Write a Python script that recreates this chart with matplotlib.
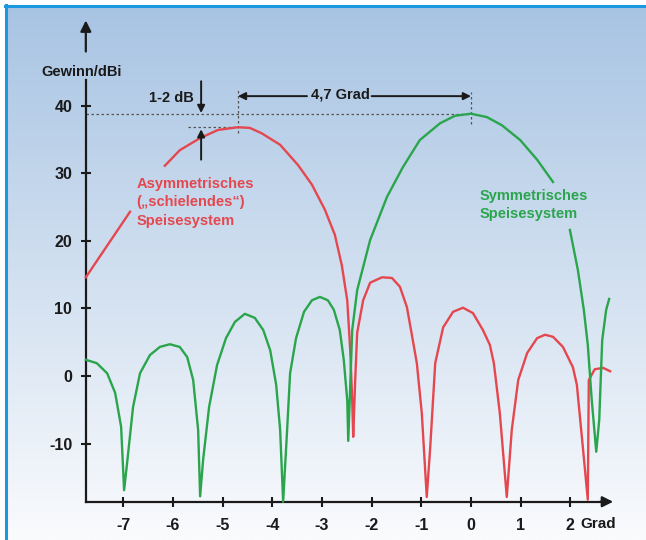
import matplotlib
matplotlib.use('Agg')
import matplotlib.pyplot as plt
import matplotlib.colors as mcolors
import numpy as np

nan = np.nan

# Symmetrisches Speisesystem (grün): Winkel in Grad, Gewinn in dBi
sym_x = [-7.75, -7.53, -7.32, -7.16, -7.04, -6.98, -6.92, -6.80, -6.66, -6.46,
         -6.26, -6.06, -5.86, -5.71, -5.59, -5.49, -5.45, -5.39, -5.27, -5.11,
         -4.93, -4.75, -4.55, -4.35, -4.18, -4.04, -3.92, -3.84, -3.78, -3.70,
         -3.64, -3.52, -3.36, -3.20, -3.04, -2.88, -2.76, -2.64, -2.56, -2.49,
         -2.47, -2.39, -2.29, -2.03, -1.69, -1.37, -1.03, -0.62, -0.32, 0.0,
         0.32, 0.62, 0.99, 1.33, 1.65, nan, 1.99, 2.15, 2.27, 2.35,
         2.43, 2.52, 2.58, 2.64, 2.72, 2.78]
sym_y = [2.4, 1.9, 0.4, -2.5, -7.5, -16.9, -12.9, -4.6, 0.4, 3.1,
         4.3, 4.7, 4.3, 2.8, -0.6, -8.0, -17.8, -12.4, -4.6, 1.6,
         5.6, 8.0, 9.2, 8.6, 6.8, 3.8, -1.3, -8.0, -18.6, -8.0,
         0.4, 5.6, 9.5, 11.2, 11.7, 11.2, 9.8, 6.8, 2.4, -3.6,
         -9.6, 6.8, 12.7, 20.1, 26.5, 30.9, 34.9, 37.4, 38.5, 38.8,
         38.3, 37.1, 34.9, 32.0, 28.7, nan, 21.6, 15.7, 9.8, 4.6,
         -3.6, -11.2, -6.5, 5.3, 9.8, 11.4]

# Asymmetrisches ("schielendes") Speisesystem (rot)
asym_x = [-7.75, -6.86, nan, -6.16, -5.86, -5.45, -5.09, -4.69, -4.45, -4.21,
          -3.84, -3.48, -3.20, -2.94, -2.74, -2.60, -2.49, -2.43, -2.39, -2.37,
          -2.33, -2.29, -2.17, -2.03, -1.79, -1.59, -1.43, -1.29, -1.19, -1.09,
          -0.99, -0.89, -0.82, -0.72, -0.56, -0.36, -0.16, 0.04, 0.24, 0.38,
          0.46, 0.58, 0.72, 0.82, 0.95, 1.13, 1.33, 1.49, 1.65, 1.85,
          2.05, 2.13, 2.25, 2.35, 2.37, 2.49, 2.66, 2.80]
asym_y = [14.6, 24.3, nan, 31.1, 33.4, 35.2, 36.4, 36.8, 36.7, 35.9,
          34.2, 31.2, 28.3, 24.6, 20.9, 16.4, 11.2, 3.8, -3.6, -9.0,
          -0.6, 6.4, 11.2, 13.8, 14.6, 14.5, 13.2, 10.2, 6.1, 1.9,
          -5.5, -17.9, -10.5, 1.9, 7.2, 9.5, 10.1, 9.3, 6.8, 4.6,
          1.9, -5.5, -17.9, -8.0, -0.6, 3.4, 5.6, 6.1, 5.8, 4.3,
          1.3, -1.3, -10.5, -18.3, -0.6, 1.0, 1.2, 0.7]

xticks = [-7, -6, -5, -4, -3, -2, -1, 0, 1, 2]
xtick_labels = ['-7', '-6', '-5', '-4', '-3', '-2', '-1', '0', '1', '2']
yticks = [-10, 0, 10, 20, 30, 40]
ytick_labels = ['-10', '0', '10', '20', '30', '40']

peak_sym = 38.7
peak_asym = 36.8
peak_asym_x = -4.69

plt.rcParams['font.family'] = ['Liberation Sans Narrow', 'Liberation Sans', 'DejaVu Sans']
plt.rcParams['font.weight'] = 'bold'

RED = '#e5474f'
GREEN = '#2aa54c'
INK = '#1a1a1a'
BLUE = '#1b98e0'

fig = plt.figure(figsize=(6.46, 5.40), dpi=100)
fig.patch.set_facecolor('white')
ax = fig.add_axes([0, 0, 1, 1])
ax.set_facecolor('none')

# Hintergrund-Verlauf hellblau -> weiss
top = np.array(mcolors.to_rgb('#a8c4e3'))
bot = np.array(mcolors.to_rgb('#fafbfd'))
t = np.linspace(0, 1, 256)[:, None]
grad = (top[None, :] * (1 - t) + bot[None, :] * t)[:, None, :]
ax.imshow(grad, extent=[7 / 646, 1, 0, 1 - 7 / 540], transform=ax.transAxes,
          aspect='auto', zorder=0, interpolation='bilinear')
ax.plot([6 / 646, 6 / 646], [0, 1 - 5 / 540], color=BLUE, lw=2.2, transform=ax.transAxes, zorder=1)
ax.plot([5 / 646, 1], [1 - 6 / 540, 1 - 6 / 540], color=BLUE, lw=2.2, transform=ax.transAxes, zorder=1)

ax.set_xlim(-471 / 49.7, 175 / 49.7)
ax.set_ylim(-164 / 6.76, 376 / 6.76)

# Achsen
for s in ['top', 'right']:
    ax.spines[s].set_visible(False)
ax.spines['left'].set_position(('data', -7.75))
ax.spines['bottom'].set_position(('data', -18.6))
ax.spines['left'].set_bounds(-18.6, 43.8)
ax.spines['bottom'].set_bounds(-7.75, 2.7)
for s in ['left', 'bottom']:
    ax.spines[s].set_linewidth(1.6)
    ax.spines[s].set_color(INK)
ax.set_xticks(xticks)
ax.set_xticklabels(xtick_labels)
ax.set_yticks(yticks)
ax.set_yticklabels(ytick_labels)
ax.tick_params(direction='inout', length=7.5, width=1.5, color=INK,
               labelsize=11.5, labelcolor=INK)
ax.tick_params(axis='x', pad=8)
ax.tick_params(axis='y', pad=6)

ax.annotate('', xy=(2.86, -18.6), xytext=(2.6, -18.6),
            arrowprops=dict(arrowstyle='-|>', lw=1.6, color=INK, mutation_scale=16,
                            shrinkA=0, shrinkB=0))
ax.annotate('', xy=(-7.75, 52.6), xytext=(-7.75, 48.0),
            arrowprops=dict(arrowstyle='-|>', lw=1.6, color=INK, mutation_scale=16,
                            shrinkA=0, shrinkB=0))
ax.text(-7.83, 44.9, 'Gewinn/dBi', ha='center', va='center', fontsize=10.5, color=INK)
ax.text(2.56, -21.9, 'Grad', ha='center', va='center', fontsize=11, color=INK)

# Kurven
ax.plot(asym_x, asym_y, color=RED, lw=1.7, zorder=3)
ax.plot(sym_x, sym_y, color=GREEN, lw=1.7, zorder=3)

# Hilfslinien
dash = dict(color='#555555', lw=0.9, ls=(0, (2, 2)), zorder=2)
ax.plot([-7.75, 0], [peak_sym, peak_sym], **dash)
ax.plot([-5.69, peak_asym_x], [peak_asym, peak_asym], **dash)
ax.plot([peak_asym_x, peak_asym_x], [35.9, 42.3], **dash)
ax.plot([0, 0], [37.3, 42.0], **dash)

arr = dict(arrowstyle='-|>', lw=1.4, color=INK, mutation_scale=11, shrinkA=0, shrinkB=0)
ax.annotate('', xy=(-5.43, peak_sym + 0.2), xytext=(-5.43, 43.6), arrowprops=arr)
ax.annotate('', xy=(-5.43, peak_asym - 0.3), xytext=(-5.43, 32.0), arrowprops=arr)
ax.text(-5.57, 41.1, '1-2 dB', ha='right', va='center', fontsize=10.5, color=INK)

ax.annotate('', xy=(peak_asym_x, 41.4), xytext=(-3.3, 41.4), arrowprops=arr)
ax.annotate('', xy=(0, 41.4), xytext=(-2.0, 41.4), arrowprops=arr)
ax.text(-2.63, 41.6, '4,7 Grad', ha='center', va='center', fontsize=10.5, color=INK)

# Beschriftungen
ax.text(-6.73, 25.7, 'Asymmetrisches\n(\u201eschielendes\u201c)\nSpeisesystem',
        ha='left', va='center', fontsize=10.5, color=RED, linespacing=1.4)
ax.text(0.18, 25.3, 'Symmetrisches\nSpeisesystem', ha='left', va='center',
        fontsize=10.5, color=GREEN, linespacing=1.4)

fig.savefig('out.png', dpi=100)
